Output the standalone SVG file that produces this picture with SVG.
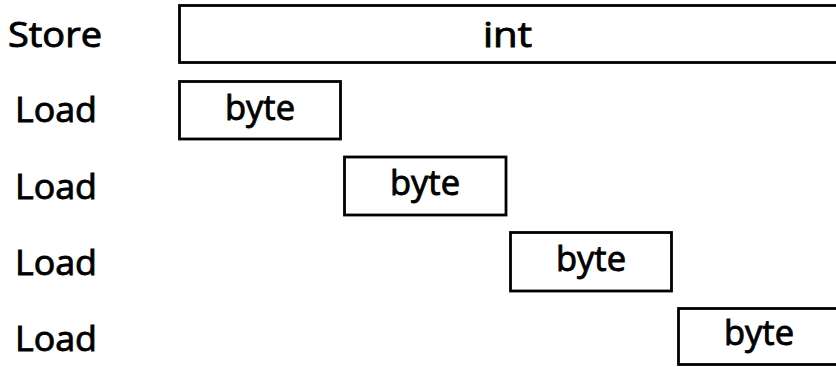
<svg xmlns="http://www.w3.org/2000/svg" width="836" height="367" viewBox="0 0 836 367">
  <style>
    .box { fill: #ffffff; stroke: #000000; stroke-width: 2.8; }
    .txt { font-family: "Open Sans", "DejaVu Sans", sans-serif; font-weight: 400; font-size: 35px; fill: #000000; stroke: #000000; stroke-width: 0.9; text-anchor: middle; }
  </style>
  <rect x="0" y="0" width="836" height="367" fill="#ffffff"/>

  <!-- row labels -->
  <g id="labels">
    <text class="txt" x="55" y="46.7" textLength="94" lengthAdjust="spacingAndGlyphs">Store</text>
    <text class="txt" x="56" y="122.3" textLength="82" lengthAdjust="spacingAndGlyphs">Load</text>
    <text class="txt" x="56" y="199.3" textLength="82" lengthAdjust="spacingAndGlyphs">Load</text>
    <text class="txt" x="56" y="275" textLength="82" lengthAdjust="spacingAndGlyphs">Load</text>
    <text class="txt" x="56" y="350.7" textLength="82" lengthAdjust="spacingAndGlyphs">Load</text>
  </g>

  <!-- store: one int spanning all four bytes -->
  <g id="store-int">
    <rect class="box" x="179.5" y="5.5" width="660" height="57"/>
    <text class="txt" x="507.5" y="46.7" textLength="49" lengthAdjust="spacingAndGlyphs">int</text>
  </g>

  <!-- loads: four individual bytes -->
  <g id="load-byte-0">
    <rect class="box" x="179.5" y="81.5" width="161" height="57.5"/>
    <text class="txt" x="260" y="120" textLength="70" lengthAdjust="spacingAndGlyphs">byte</text>
  </g>
  <g id="load-byte-1">
    <rect class="box" x="344.5" y="157" width="161.5" height="58"/>
    <text class="txt" x="425" y="195" textLength="70" lengthAdjust="spacingAndGlyphs">byte</text>
  </g>
  <g id="load-byte-2">
    <rect class="box" x="510.5" y="232.5" width="161" height="58.5"/>
    <text class="txt" x="591" y="270.5" textLength="70" lengthAdjust="spacingAndGlyphs">byte</text>
  </g>
  <g id="load-byte-3">
    <rect class="box" x="678.5" y="308.5" width="161.5" height="56"/>
    <text class="txt" x="759" y="345" textLength="70" lengthAdjust="spacingAndGlyphs">byte</text>
  </g>

  <g id="connectors"/>
</svg>
